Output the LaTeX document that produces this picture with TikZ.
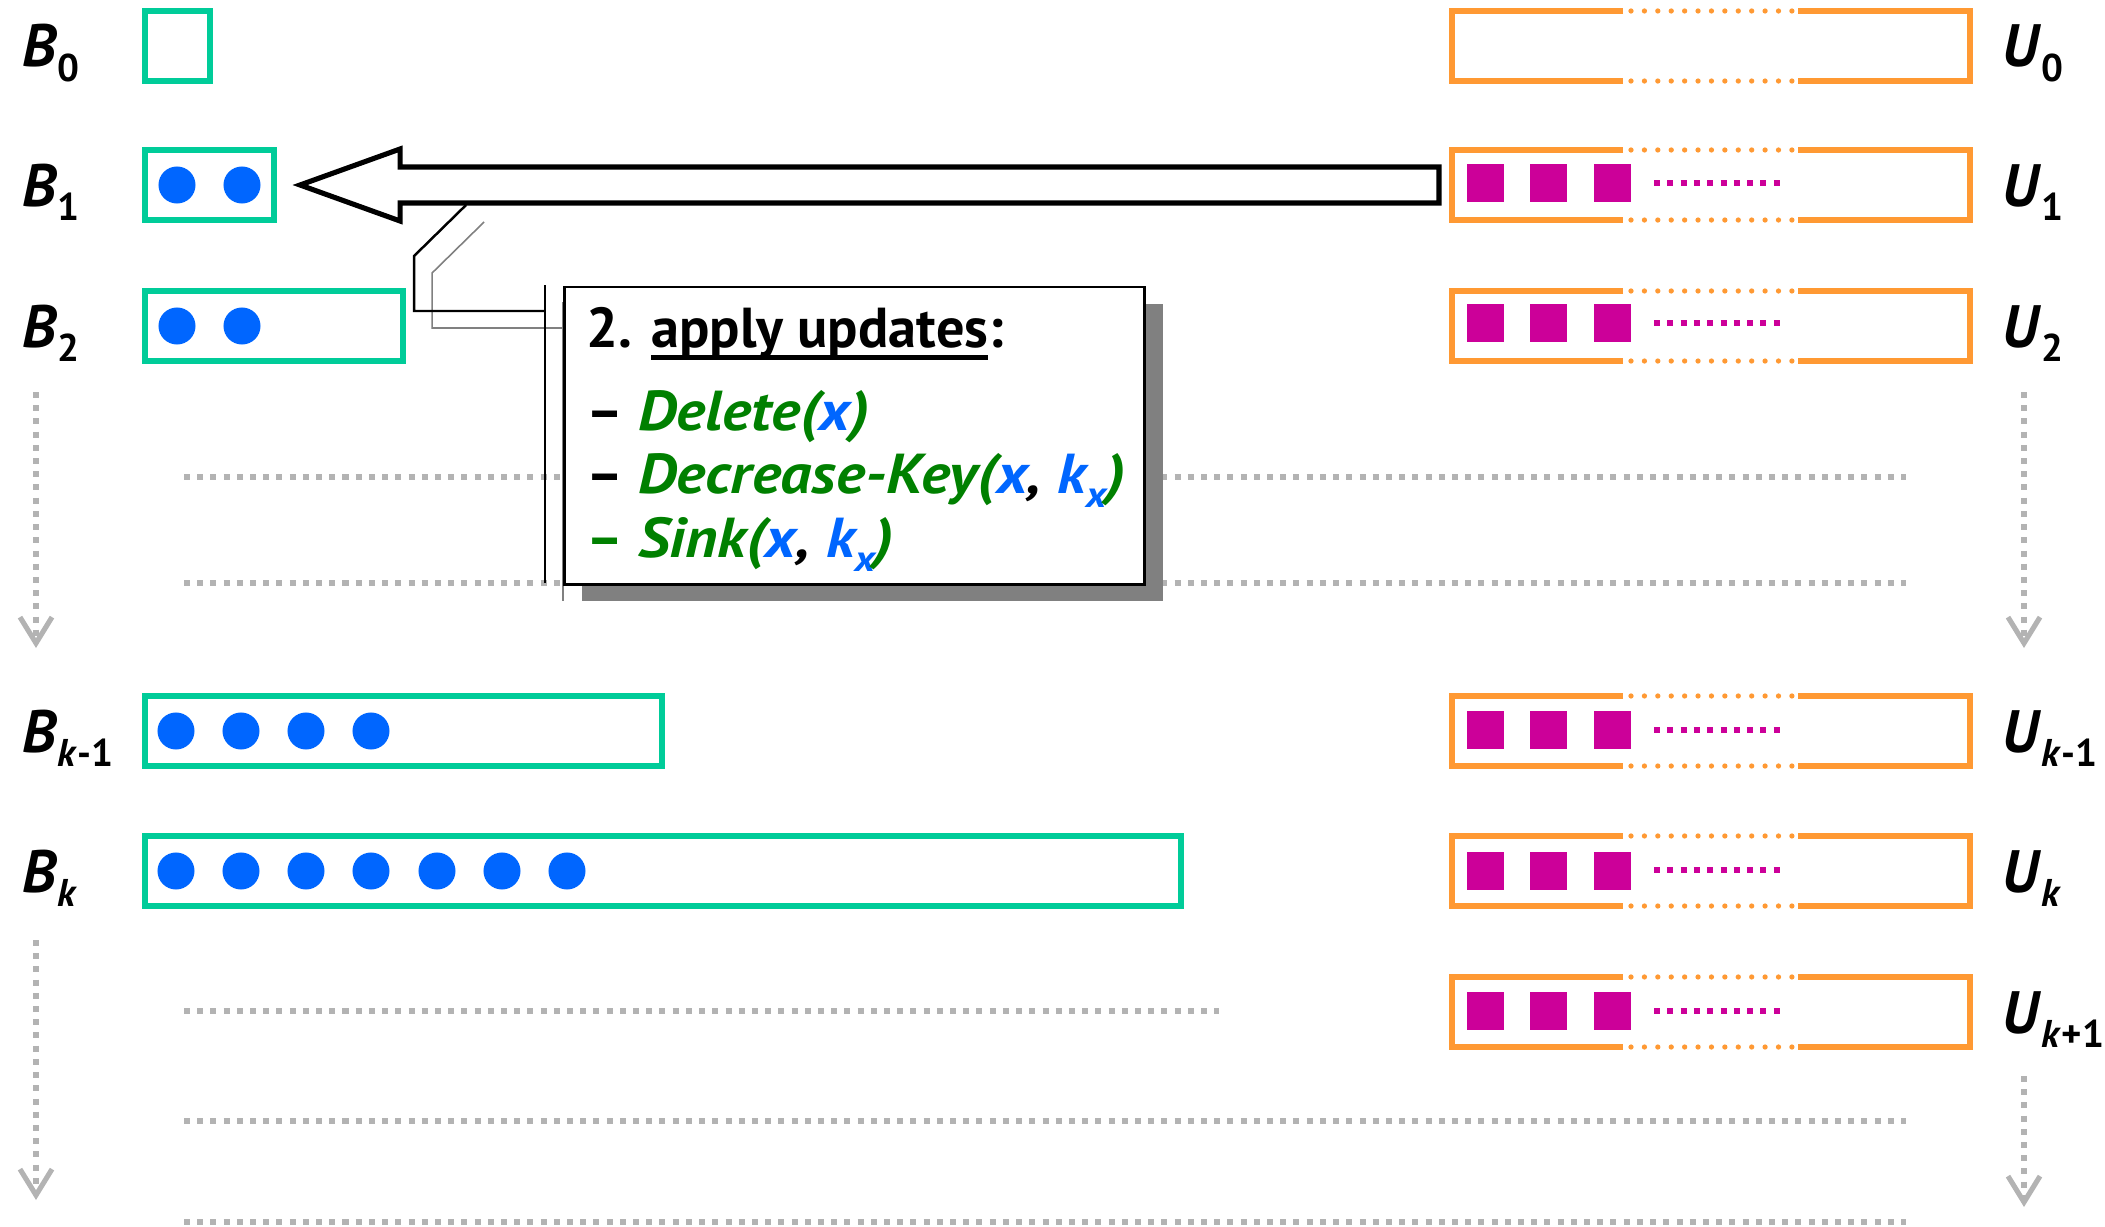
\documentclass[tikz,border=0pt]{standalone}
\usepackage{fontspec}
\setmainfont{PT Sans}
\usetikzlibrary{calc,shadows,arrows.meta}

\definecolor{bteal}{RGB}{0,204,153}
\definecolor{bblue}{RGB}{0,102,255}
\definecolor{uorange}{RGB}{255,153,51}
\definecolor{umagenta}{RGB}{204,0,153}
\definecolor{dotgrey}{RGB}{179,179,179}
\definecolor{opgreen}{RGB}{0,128,0}

\newcommand{\lsub}[1]{\raisebox{-.24em}{\fontsize{11}{11}\selectfont #1}}
\newcommand{\xsub}[1]{\raisebox{-.25em}{\fontsize{10.5}{10.5}\selectfont #1}}
\newcommand{\opit}{\itshape\addfontfeature{FakeStretch=1.1}}
\newsavebox{\ulbox}
\newcommand{\ulwords}[1]{\sbox{\ulbox}{#1}\rlap{\rule[-.23em]{\wd\ulbox}{.08em}}\usebox{\ulbox}}

\begin{document}
\begin{tikzpicture}[x=0.01cm, y=-0.01cm]

      \tikzset{bbox/.style={draw=bteal, line width=1.7pt, minimum height=.69cm, inner sep=0pt, outer sep=0pt, anchor=west},
               bdot/.style={circle, fill=bblue, minimum size=.37cm, inner sep=0pt},
               ubox/.style={minimum width=5.18cm, minimum height=.70cm, inner sep=0pt, outer sep=0pt, anchor=west},
               uframe/.style={draw=uorange, line width=1.8pt, line join=miter},
               ugap/.style={draw=uorange, line width=1.5pt, line cap=round, dash pattern=on 0pt off .134cm},
               umark/.style={fill=umagenta, minimum size=.37cm, inner sep=0pt},
               utrail/.style={draw=umagenta, line width=1.7pt, dash pattern=on .06cm off .073cm},
               lbl/.style={anchor=base west, inner sep=0pt, font=\fontsize{17}{20}\selectfont\bfseries},
               hdots/.style={draw=dotgrey, line width=1.45pt, dash pattern=on .06cm off .072cm},
               vdots/.style={hdots, -{Straight Barb[length=.26cm, width=.32cm]}},
               bigarrow/.style={draw=black, fill=white, line width=1.45pt, line join=miter},
               updbox/.style={draw=black, fill=white, line width=.7pt, minimum width=5.8cm, minimum height=2.97cm, inner sep=0pt, anchor=north west,
                              drop shadow={shadow xshift=.18cm, shadow yshift=-.17cm, fill=black!50, opacity=1}},
               ptrline/.style={draw=black, line width=.7pt},
               ptrshade/.style={draw=black!50, line width=.45pt},
               optext/.style={anchor=base west, inner sep=0pt, font=\fontsize{16}{19}\selectfont\bfseries}}

      \useasboundingbox (0,0) rectangle (2105,1227);

% Guides
	%vandret
		\draw[hdots] (184,477) -- (1906,477);
		\draw[hdots] (184,583) -- (1906,583);
		\draw[hdots] (184,1011) -- (1219,1011);
		\draw[hdots] (184,1121) -- (1906,1121);
		\draw[hdots] (184,1222) -- (1906,1222);
	%lodret
		\draw[vdots] (36,392) -- (36,648);
		\draw[vdots] (36,940) -- (36,1200);
		\draw[vdots] (2024,392) -- (2024,648);
		\draw[vdots] (2024,1076) -- (2024,1207);

% Vertices
	%B-rækker
		\node[lbl] (lb0) at (22,67) {\textit{B}\lsub{0}};
		\node[bbox, minimum width=.645cm] (b0) at (145,46) {};

		\node[lbl] (lb1) at (22,206) {\textit{B}\lsub{1}};
		\node[bbox, minimum width=1.29cm] (b1) at (145,185) {};
		\node[bdot] (b1d1) at (177,185) {};
		\node[bdot] (b1d2) at (242,185) {};

		\node[lbl] (lb2) at (22,347) {\textit{B}\lsub{2}};
		\node[bbox, minimum width=2.58cm] (b2) at (145,326) {};
		\node[bdot] (b2d1) at (177,326) {};
		\node[bdot] (b2d2) at (242,326) {};

		\node[lbl] (lbk1) at (22,752) {\textit{B}\lsub{\textit{k}-1}};
		\node[bbox, minimum width=5.17cm] (bk1) at (145,731) {};
		\node[bdot] (bk1d1) at (176,731) {};
		\node[bdot] (bk1d2) at (241,731) {};
		\node[bdot] (bk1d3) at (306,731) {};
		\node[bdot] (bk1d4) at (371,731) {};

		\node[lbl] (lbk) at (22,892) {\textit{B}\lsub{\textit{k}}};
		\node[bbox, minimum width=10.35cm] (bk) at (145,871) {};
		\node[bdot] (bkd1) at (176,871) {};
		\node[bdot] (bkd2) at (241,871) {};
		\node[bdot] (bkd3) at (306,871) {};
		\node[bdot] (bkd4) at (371,871) {};
		\node[bdot] (bkd5) at (437,871) {};
		\node[bdot] (bkd6) at (502,871) {};
		\node[bdot] (bkd7) at (567,871) {};

	%U-rækker
		\node[ubox] (u0) at (1452,46) {};
		\node[lbl] (lu0) at (2002,67) {\textit{U}\lsub{0}};

		\node[ubox] (u1) at (1452,185) {};
		\node[lbl] (lu1) at (2002,206) {\textit{U}\lsub{1}};
		\node[umark] (u1m1) at (1485,183) {};
		\node[umark] (u1m2) at (1548,183) {};
		\node[umark] (u1m3) at (1612,183) {};

		\node[ubox] (u2) at (1452,326) {};
		\node[lbl] (lu2) at (2002,347) {\textit{U}\lsub{2}};
		\node[umark] (u2m1) at (1485,323) {};
		\node[umark] (u2m2) at (1548,323) {};
		\node[umark] (u2m3) at (1612,323) {};

		\node[ubox] (uk1) at (1452,731) {};
		\node[lbl] (luk1) at (2002,752) {\textit{U}\lsub{\textit{k}-1}};
		\node[umark] (uk1m1) at (1485,730) {};
		\node[umark] (uk1m2) at (1548,730) {};
		\node[umark] (uk1m3) at (1612,730) {};

		\node[ubox] (uk) at (1452,871) {};
		\node[lbl] (luk) at (2002,892) {\textit{U}\lsub{\textit{k}}};
		\node[umark] (ukm1) at (1485,871) {};
		\node[umark] (ukm2) at (1548,871) {};
		\node[umark] (ukm3) at (1612,871) {};

		\node[ubox] (uk2) at (1452,1012) {};
		\node[lbl] (luk2) at (2002,1033) {\textit{U}\lsub{\textit{k}+1}};
		\node[umark] (uk2m1) at (1485,1011) {};
		\node[umark] (uk2m2) at (1548,1011) {};
		\node[umark] (uk2m3) at (1612,1011) {};

% Edges
	%U-rammer
		\draw[uframe] ($(u0.north west)+(171,0)$) -- (u0.north west) -- (u0.south west) -- ++(171,0);
		\draw[uframe] ($(u0.north east)+(-172,0)$) -- (u0.north east) -- (u0.south east) -- ++(-172,0);
		\draw[ugap] ($(u0.north west)+(179,0)$) -- ++(161,0) ($(u0.south west)+(179,0)$) -- ++(161,0);

		\draw[uframe] ($(u1.north west)+(171,0)$) -- (u1.north west) -- (u1.south west) -- ++(171,0);
		\draw[uframe] ($(u1.north east)+(-172,0)$) -- (u1.north east) -- (u1.south east) -- ++(-172,0);
		\draw[ugap] ($(u1.north west)+(179,0)$) -- ++(161,0) ($(u1.south west)+(179,0)$) -- ++(161,0);
		\draw[utrail] ($(u1.west)+(202,-2)$) -- ++(126,0);

		\draw[uframe] ($(u2.north west)+(171,0)$) -- (u2.north west) -- (u2.south west) -- ++(171,0);
		\draw[uframe] ($(u2.north east)+(-172,0)$) -- (u2.north east) -- (u2.south east) -- ++(-172,0);
		\draw[ugap] ($(u2.north west)+(179,0)$) -- ++(161,0) ($(u2.south west)+(179,0)$) -- ++(161,0);
		\draw[utrail] ($(u2.west)+(202,-3)$) -- ++(126,0);

		\draw[uframe] ($(uk1.north west)+(171,0)$) -- (uk1.north west) -- (uk1.south west) -- ++(171,0);
		\draw[uframe] ($(uk1.north east)+(-172,0)$) -- (uk1.north east) -- (uk1.south east) -- ++(-172,0);
		\draw[ugap] ($(uk1.north west)+(179,0)$) -- ++(161,0) ($(uk1.south west)+(179,0)$) -- ++(161,0);
		\draw[utrail] ($(uk1.west)+(202,-1)$) -- ++(126,0);

		\draw[uframe] ($(uk.north west)+(171,0)$) -- (uk.north west) -- (uk.south west) -- ++(171,0);
		\draw[uframe] ($(uk.north east)+(-172,0)$) -- (uk.north east) -- (uk.south east) -- ++(-172,0);
		\draw[ugap] ($(uk.north west)+(179,0)$) -- ++(161,0) ($(uk.south west)+(179,0)$) -- ++(161,0);
		\draw[utrail] ($(uk.west)+(202,-1)$) -- ++(126,0);

		\draw[uframe] ($(uk2.north west)+(171,0)$) -- (uk2.north west) -- (uk2.south west) -- ++(171,0);
		\draw[uframe] ($(uk2.north east)+(-172,0)$) -- (uk2.north east) -- (uk2.south east) -- ++(-172,0);
		\draw[ugap] ($(uk2.north west)+(179,0)$) -- ++(161,0) ($(uk2.south west)+(179,0)$) -- ++(161,0);
		\draw[utrail] ($(uk2.west)+(202,-1)$) -- ++(126,0);

	%Pil fra U1 til B1
		\coordinate (tip) at ($(b1.east)+(26,0)$);
		\coordinate (tail) at ($(u1.west)+(-13,0)$);
		\draw[bigarrow] (tip) -- ++(100,-36) -- ++(0,18) -- ($(tail)+(0,-18)$) -- ($(tail)+(0,18)$) -- ($(tip)+(100,18)$) -- ++(0,18) -- cycle;

	%Boks
		\coordinate (ptr) at ($(tip)+(166,20)$);
		\draw[ptrshade] ($(ptr)+(18,17)$) -- ++(-52,51) -- ++(0,55) -- ++(131,0);
		\draw[ptrshade] ($(ptr)+(97,97)$) -- ++(0,299);
		\draw[ptrline] (ptr) -- ++(-52,51) -- ++(0,55) -- ++(131,0);
		\draw[ptrline] ($(ptr)+(79,80)$) -- ++(0,298);
		\node[updbox] (upd) at ($(ptr)+(97,81)$) {};

		\node[optext] (hdr) at (586,347) {2. \ulwords{apply updates}:};
		\node[optext] (op1) at (586,430) {– {\opit\color{opgreen}Delete(\textcolor{bblue}{x})}};
		\node[optext] (op2) at (586,493) {– {\opit\color{opgreen}Decrease-Key(\textcolor{bblue}{x}\textcolor{black}{,} \textcolor{bblue}{k\xsub{x}})}};
		\node[optext] (op3) at (586,557) {\textcolor{opgreen}{– {\opit Sink(\textcolor{bblue}{x}\textcolor{black}{,} \textcolor{bblue}{k\xsub{x}})}}};

\end{tikzpicture}
\end{document}
